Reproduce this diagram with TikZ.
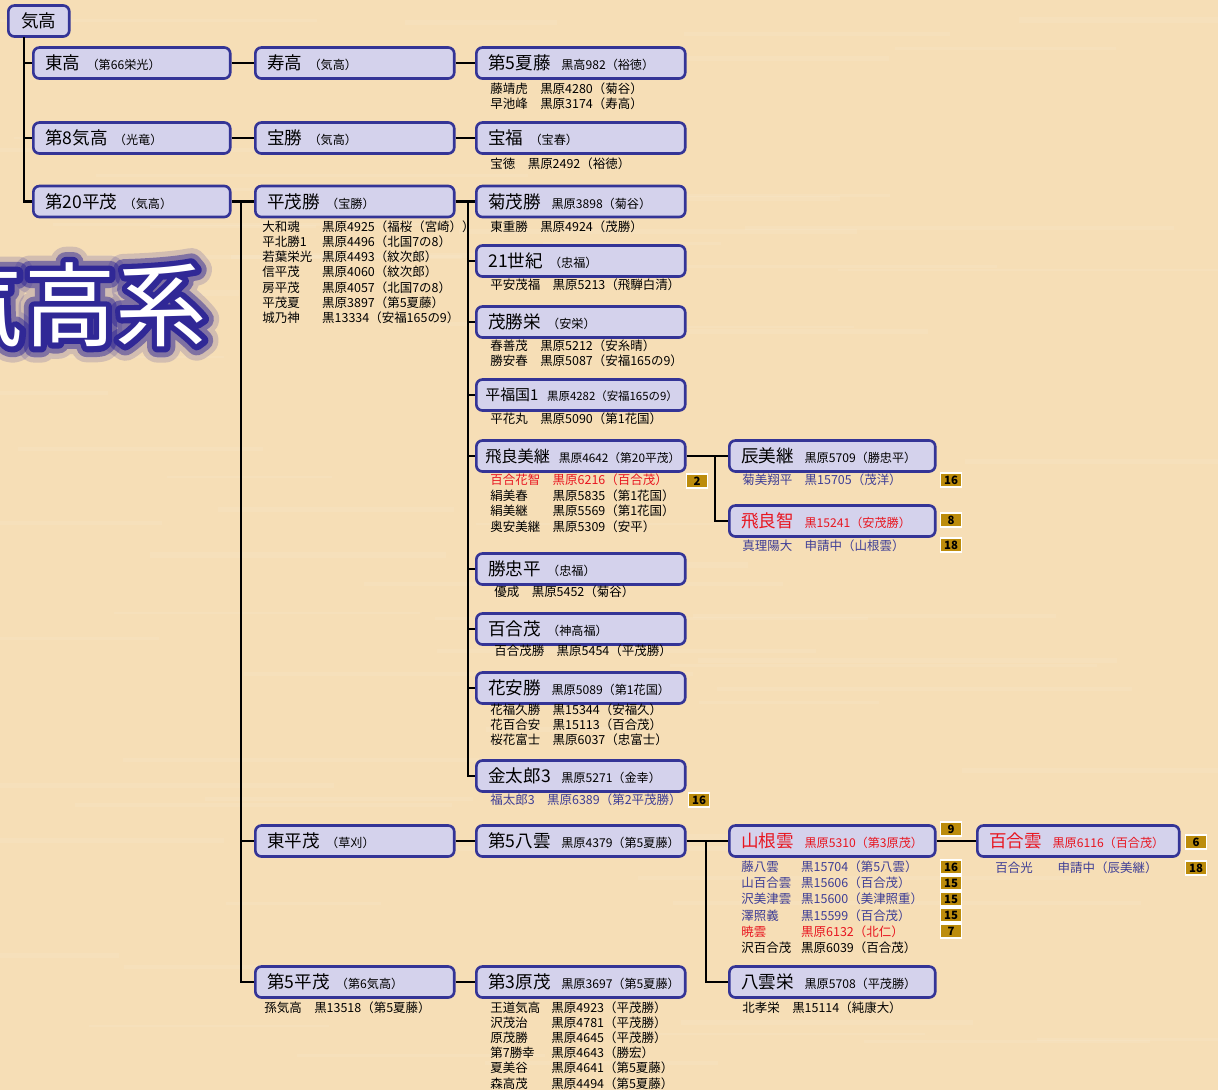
\documentclass[tikz,border=0pt]{standalone}
\usepackage{fontspec}
\setmainfont{Noto Sans CJK JP}
\usepackage{xcolor}
\usepackage{tikz}
\usetikzlibrary{positioning}

\definecolor{wood}{RGB}{246,222,182}
\definecolor{boxfill}{RGB}{212,210,236}
\definecolor{boxline}{RGB}{52,52,150}
\definecolor{redtxt}{RGB}{232,22,32}
\definecolor{bluetxt}{RGB}{62,62,150}
\definecolor{gold}{RGB}{188,140,12}
\definecolor{glow}{RGB}{48,40,150}

% box texts
\newcommand{\bn}[1]{{\fontsize{10}{12}\selectfont #1}}
\newcommand{\bp}[1]{\nobreak\hspace{0.35em}{\fontsize{6.9}{8}\selectfont #1}}
\newcommand{\br}[1]{\nobreak\hspace{0.6em}{\fontsize{6.9}{8}\selectfont #1}}
\newcommand{\rd}[1]{\textcolor{redtxt}{#1}}
% list under a box
\newcommand{\tb}[2][1em]{\begin{tabular}[t]{@{}l@{\hspace{#1}}l@{}}#2\end{tabular}}
% stroked text for the glow of the title
\newcommand{\stroked}[2]{\special{pdf:literal direct 1 Tr #1 w 1 j}#2\special{pdf:literal direct 0 Tr 0.4 w}}

\tikzset{
  box/.style={draw=boxline, fill=boxfill, line width=1.5pt, rounded corners=3.5pt,
    anchor=west, inner xsep=0.24cm, inner ysep=0pt, minimum height=0.62cm, align=left},
  root/.style={box, text width=0.74cm, align=center},
  col1/.style={box, text width=3.46cm},
  col2/.style={box, text width=3.50cm},
  col3/.style={box, text width=3.70cm},
  col4/.style={box, text width=3.64cm},
  col5/.style={box, text width=3.56cm},
  list/.style={anchor=base west, inner sep=0pt, font=\fontsize{7.1}{8.5}\selectfont},
  badge/.style={fill=gold, draw=white, line width=0.8pt, minimum width=0.42cm,
    minimum height=0.28cm, inner sep=0pt, font=\fontsize{6.5}{7}\selectfont\bfseries},
  link/.style={line width=1.6pt, black},
  title/.style={font=\fontsize{52}{52}\selectfont}
}

\begin{document}
\begin{tikzpicture}[x=0.02cm, y=-0.02cm]
	\useasboundingbox (0,0) rectangle (1218,1090);
	\clip (0,0) rectangle (1218,1090);
	%background with some grain
	\fill[wood] (0,0) rectangle (1218,1090);
	\pgfmathsetseed{11}
	\foreach \i in {1,...,70}{
		\pgfmathsetmacro\xx{rnd*1218-150}
		\pgfmathsetmacro\yy{rnd*1090}
		\pgfmathsetmacro\ww{150+rnd*350}
		\fill[white, opacity=0.08] (\xx,\yy) rectangle ++(\ww,2+rnd*4);
	}

	%title
	\coordinate (tc) at (70,305);
	\node[title, text=glow, opacity=0.18] (glowa) at (tc) {\stroked{18}{気高系}};
	\node[title, text=glow, opacity=0.5] (glowb) at (tc) {\stroked{12}{気高系}};
	\node[title, text=glow] (glowc) at (tc) {\stroked{6.5}{気高系}};
	\node[title, text=white] (title) at (tc) {気高系};

	%boxes
	\node[root] (kidaka) at (7,21) {\bn{気高}};
	\node[col1] (toko) at (32,63) {\bn{東高}\bp{（第66栄光）}};
	\node[col1] (dai8) at (32,138) {\bn{第8気高}\bp{（光竜）}};
	\node[col1] (dai20) at (32,201.5) {\bn{第20平茂}\bp{（気高）}};

	\node[col2] (jutaka) at (254,63) {\bn{寿高}\bp{（気高）}};
	\node[col2] (hosho) at (254,138) {\bn{宝勝}\bp{（気高）}};
	\node[col2] (heimokatsu) at (254,201.5) {\bn{平茂勝}\bp{（宝勝）}};
	\node[col2] (higashi) at (254,841) {\bn{東平茂}\bp{（草刈）}};
	\node[col2] (dai5hei) at (254,982) {\bn{第5平茂}\bp{（第6気高）}};

	\node[col3] (dai5natsu) at (475,63) {\bn{第5夏藤}\br{黒高982（裕徳）}};
	\node[col3] (hofuku) at (475,138) {\bn{宝福}\bp{（宝春）}};
	\node[col3] (kikumo) at (475,201.5) {\bn{菊茂勝}\br{黒原3898（菊谷）}};
	\node[col3] (seiki) at (475,261) {\bn{21世紀}\bp{（忠福）}};
	\node[col3] (mosakae) at (475,322) {\bn{茂勝栄}\bp{（安栄）}};
	\node[col3, inner xsep=0.18cm, text width=3.82cm] (heifuku) at (475,395)
		{{\fontsize{8.5}{10}\selectfont 平福国1}\nobreak\hspace{0.5em}{\fontsize{6.5}{8}\selectfont 黒原4282（安福165の9）}};
	\node[col3, inner xsep=0.18cm, text width=3.82cm] (hiyoshi) at (475,456)
		{{\fontsize{9.2}{11}\selectfont 飛良美継}\nobreak\hspace{0.5em}{\fontsize{6.7}{8}\selectfont 黒原4642（第20平茂）}};
	\node[col3] (katsuchu) at (475,569) {\bn{勝忠平}\bp{（忠福）}};
	\node[col3] (yurimo) at (475,629) {\bn{百合茂}\bp{（神高福）}};
	\node[col3] (hanayasu) at (475,688) {\bn{花安勝}\br{黒原5089（第1花国）}};
	\node[col3] (kintaro) at (475,776) {\bn{金太郎3}\br{黒原5271（金幸）}};
	\node[col3] (dai5ya) at (475,841) {\bn{第5八雲}\br{黒原4379（第5夏藤）}};
	\node[col3] (dai3gen) at (475,982) {\bn{第3原茂}\br{黒原3697（第5夏藤）}};

	\node[col4] (tatsumi) at (728,456) {\bn{辰美継}\br{黒原5709（勝忠平）}};
	\node[col4, text=redtxt] (hisato) at (728,521) {\bn{飛良智}\br{黒15241（安茂勝）}};
	\node[col4, text=redtxt] (yamane) at (728,841) {\bn{山根雲}\br{黒原5310（第3原茂）}};
	\node[col4] (yakumoei) at (728,982) {\bn{八雲栄}\br{黒原5708（平茂勝）}};

	\node[col5, text=redtxt] (yurigumo) at (976,841) {\bn{百合雲}\br{黒原6116（百合茂）}};

	%connectors
	\coordinate (t0) at (24,37);
	\foreach \n in {toko,dai8,dai20}
		\draw[link] (t0) |- (\n);
	\draw[link] (toko) -- (jutaka);
	\draw[link] (jutaka) -- (dai5natsu);
	\draw[link] (dai8) -- (hosho);
	\draw[link] (hosho) -- (hofuku);
	\draw[link] (dai20) -- (heimokatsu);
	\coordinate (t1) at (241,201.5);
	\foreach \n in {higashi,dai5hei}
		\draw[link] (t1) |- (\n);
	\draw[link] (heimokatsu) -- (kikumo);
	\coordinate (t2) at (468,201.5);
	\foreach \n in {seiki,mosakae,heifuku,hiyoshi,katsuchu,yurimo,hanayasu,kintaro}
		\draw[link] (t2) |- (\n);
	\draw[link] (higashi) -- (dai5ya);
	\draw[link] (dai5hei) -- (dai3gen);
	\draw[link] (hiyoshi) -- (tatsumi);
	\coordinate (t3) at (715,456);
	\draw[link] (t3) |- (hisato);
	\draw[link] (dai5ya) -- (yamane);
	\coordinate (t4) at (706,841);
	\draw[link] (t4) |- (yakumoei);
	\draw[link] (yamane) -- (yurigumo);

	%lists
	\node[list] (l5natsu) at (490,93.5) {\tb{藤靖虎 & 黒原4280（菊谷）\\ 早池峰 & 黒原3174（寿高）}};
	\node[list] (lhofuku) at (490,168.5) {\tb{宝徳 & 黒原2492（裕徳）}};
	\node[list] (lheimo) at (262,231.5) {\tb[0.8em]{大和魂 & 黒原4925（福桜（宮崎））\\ 平北勝1 & 黒原4496（北国7の8）\\
		若葉栄光 & 黒原4493（紋次郎）\\ 信平茂 & 黒原4060（紋次郎）\\ 房平茂 & 黒原4057（北国7の8）\\
		平茂夏 & 黒原3897（第5夏藤）\\ 城乃神 & 黒13334（安福165の9）}};
	\node[list] (lkiku) at (490,231.5) {\tb{東重勝 & 黒原4924（茂勝）}};
	\node[list] (lseiki) at (490,289.5) {\tb{平安茂福 & 黒原5213（飛騨白清）}};
	\node[list] (lmosa) at (490,350.5) {\tb{春善茂 & 黒原5212（安糸晴）\\ 勝安春 & 黒原5087（安福165の9）}};
	\node[list] (lheifuku) at (490,423.5) {\tb{平花丸 & 黒原5090（第1花国）}};
	\node[list, font=\fontsize{7.1}{8.9}\selectfont] (lhiyoshi) at (490,484.5) {\tb{\rd{百合花智} & \rd{黒原6216（百合茂）}\\
		絹美春 & 黒原5835（第1花国）\\ 絹美継 & 黒原5569（第1花国）\\ 奥安美継 & 黒原5309（安平）}};
	\node[list, text=bluetxt] (ltatsu) at (742,484.5) {\tb{菊美翔平 & 黒15705（茂洋）}};
	\node[list, text=bluetxt] (lhisato) at (742,550.5) {\tb{真理陽大 & 申請中（山根雲）}};
	\node[list] (lkatsu) at (494,596.5) {\tb{優成 & 黒原5452（菊谷）}};
	\node[list] (lyuri) at (494,655.5) {\tb{百合茂勝 & 黒原5454（平茂勝）}};
	\node[list] (lhana) at (490,714.5) {\tb{花福久勝 & 黒15344（安福久）\\ 花百合安 & 黒15113（百合茂）\\ 桜花富士 & 黒原6037（忠富士）}};
	\node[list, text=bluetxt] (lkin) at (490,804.5) {\tb{福太郎3 & 黒原6389（第2平茂勝）}};
	\node[list, font=\fontsize{7.1}{9.2}\selectfont, text=bluetxt] (lyamane) at (741,871.5) {\tb[0.8em]{藤八雲 & 黒15704（第5八雲）\\
		山百合雲 & 黒15606（百合茂）\\ 沢美津雲 & 黒15600（美津照重）\\ 澤照義 & 黒15599（百合茂）\\
		\rd{暁雲} & \rd{黒原6132（北仁）}\\ \textcolor{black}{沢百合茂} & \textcolor{black}{黒原6039（百合茂）}}};
	\node[list, text=bluetxt] (lyurigumo) at (995,872.5) {\tb[2em]{百合光 & 申請中（辰美継）}};
	\node[list] (ldai5hei) at (264,1012.5) {\tb{孫気高 & 黒13518（第5夏藤）}};
	\node[list, font=\fontsize{7.1}{8.4}\selectfont] (lgen) at (490,1012.5) {\tb[0.9em]{王道気高 & 黒原4923（平茂勝）\\
		沢茂治 & 黒原4781（平茂勝）\\ 原茂勝 & 黒原4645（平茂勝）\\ 第7勝幸 & 黒原4643（勝宏）\\
		夏美谷 & 黒原4641（第5夏藤）\\ 森高茂 & 黒原4494（第5夏藤）}};
	\node[list] (lyakumo) at (742,1012.5) {\tb{北孝栄 & 黒15114（純康大）}};

	%badges
	\foreach \x/\y/\n [count=\i] in {697/481/2, 951/480/16, 951/520/8, 951/545/18, 699/800/16,
			951/829/9, 951/867/16, 951/883/15, 951/899/15, 951/915/15, 951/931/7, 1196/842/6, 1196/868/18}
		\node[badge] (badge\i) at (\x,\y) {\n};
\end{tikzpicture}
\end{document}
